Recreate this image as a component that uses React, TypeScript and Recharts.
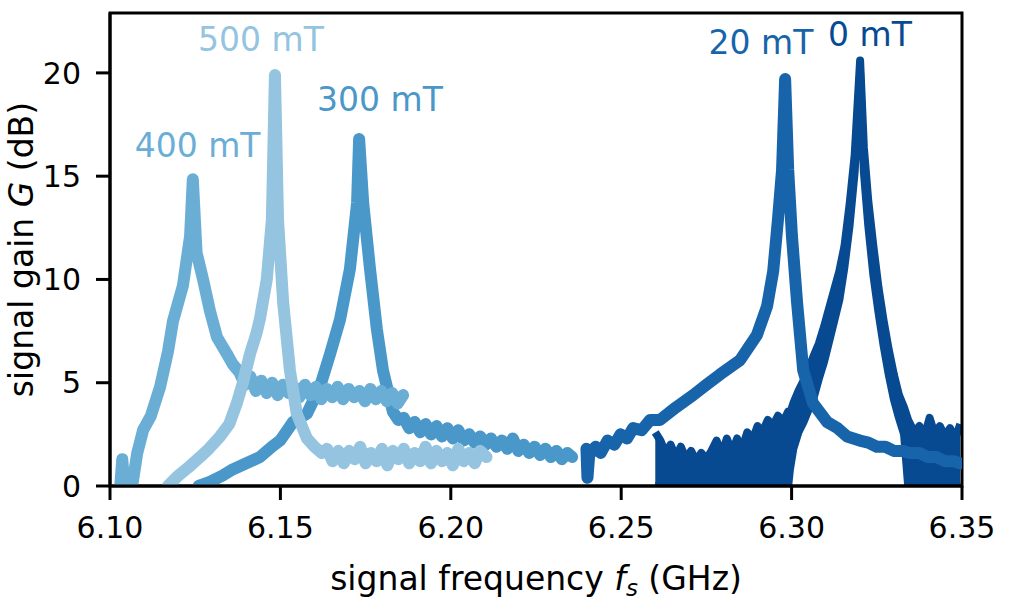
import { Area, ComposedChart, Label, Line, ReferenceArea, ReferenceDot, XAxis, YAxis } from 'recharts'

const FONT = '"DejaVu Sans", "Liberation Sans", sans-serif'

const X_TICKS = [6.1, 6.15, 6.2, 6.25, 6.3, 6.35]
const Y_TICKS = [0, 5, 10, 15, 20]

// 500 mT
const f500 = [6.117, 6.1197, 6.123, 6.1264, 6.129, 6.1323, 6.135, 6.1372, 6.139, 6.1411, 6.143, 6.144, 6.146, 6.1475, 6.1484, 6.1493, 6.1508, 6.1528, 6.1548, 6.1578, 6.16, 6.1621,
  6.1637, 6.1653, 6.167, 6.1686, 6.1702, 6.1718, 6.1734, 6.175, 6.1766, 6.1782, 6.1798, 6.1814, 6.183, 6.1846, 6.1862, 6.1878, 6.1894, 6.191, 6.1926, 6.1942, 6.1958, 6.1974, 6.199, 6.2006, 6.2022, 6.2038, 6.2054, 6.207, 6.2086, 6.2105]
const g500 = [0, 0.45, 0.9, 1.4, 1.8, 2.4, 3.0, 4.0, 5.0, 6.4, 7.4, 8.1, 10, 12.9, 19.9, 12.9, 8.9, 5.6, 3.5, 2.3, 1.9, 1.6,
  1.8, 1.2, 1.7, 1.1, 1.7, 1.3, 1.9, 1.1, 1.6, 1.2, 1.8, 1.0, 1.7, 1.3, 1.8, 1.1, 1.6, 1.2, 1.9, 1.1, 1.7, 1.2, 1.6, 1.0, 1.8, 1.2, 1.6, 1.1, 1.7, 1.4]

// 400 mT
const f400 = [6.103, 6.1036, 6.1042, 6.1065, 6.108, 6.1097, 6.112, 6.1147, 6.117, 6.1185, 6.1214, 6.1235, 6.1243, 6.1254, 6.1273, 6.1293, 6.1314, 6.1343, 6.136,
  6.138, 6.1396, 6.1412, 6.1428, 6.1444, 6.146, 6.1476, 6.1492, 6.1508, 6.1524, 6.154, 6.1556, 6.1572, 6.1588, 6.1604, 6.162, 6.1636, 6.1652, 6.1668, 6.1684, 6.17, 6.1716, 6.1732, 6.1748, 6.1764, 6.178, 6.1796, 6.1812, 6.1828, 6.1844, 6.186]
const g400 = [0, 1.3, 0, 0, 1.6, 2.7, 3.4, 4.8, 6.5, 8.0, 9.7, 12.1, 14.85, 11.3, 10.0, 8.5, 7.2, 6.4, 5.9,
  5.5, 4.9, 5.3, 4.6, 5.1, 4.5, 5.0, 4.4, 4.9, 4.5, 4.8, 4.3, 4.9, 4.4, 4.8, 4.2, 4.7, 4.3, 4.8, 4.2, 4.7, 4.3, 4.6, 4.1, 4.7, 4.2, 4.6, 4.1, 4.5, 4.0, 4.4]

// 300 mT
const f300 = [6.126, 6.1293, 6.133, 6.136, 6.14, 6.144, 6.1475, 6.1499, 6.1537, 6.1578, 6.1616, 6.1646, 6.1675, 6.1704, 6.1725, 6.1731, 6.1743, 6.1763, 6.1783, 6.1801,
  6.183, 6.1846, 6.1862, 6.1878, 6.1894, 6.191, 6.1926, 6.1942, 6.1958, 6.1974, 6.199, 6.2006, 6.2022, 6.2038, 6.2054, 6.207, 6.2086, 6.2102, 6.2118, 6.2134, 6.215, 6.2166, 6.2182, 6.2198, 6.2214, 6.223, 6.2246, 6.2262, 6.2278, 6.2294, 6.231, 6.2326, 6.2342, 6.2356]
const g300 = [0, 0.2, 0.5, 0.8, 1.1, 1.4, 1.9, 2.2, 3.1, 3.5, 4.8, 6.4, 8.06, 10.5, 13.7, 16.8, 13.7, 10.5, 7.6, 5.6,
  3.6, 3.2, 3.3, 2.8, 3.1, 2.6, 3.0, 2.5, 2.9, 2.4, 2.8, 2.3, 2.7, 2.2, 2.5, 2.1, 2.4, 2.0, 2.3, 1.9, 2.2, 1.8, 2.3, 1.7, 2.0, 1.6, 1.9, 1.5, 1.8, 1.4, 1.7, 1.3, 1.6, 1.4]

// 20 mT
const f20 = [6.2398, 6.2401, 6.2406, 6.2425, 6.244, 6.246, 6.248, 6.2498, 6.2517, 6.2535, 6.256, 6.2585, 6.2614, 6.266, 6.2711, 6.275, 6.279, 6.2849, 6.2898, 6.2928, 6.2946, 6.296, 6.2972, 6.2981, 6.299, 6.3001, 6.3016, 6.3034, 6.3063, 6.3104, 6.3135, 6.3163, 6.32, 6.3225, 6.325, 6.3275, 6.33, 6.3325, 6.3347, 6.3375, 6.34, 6.3425, 6.345, 6.3475, 6.3494]
const g20 = [1.8, 0.4, 1.5, 1.9, 1.6, 2.2, 2.0, 2.5, 2.3, 2.8, 2.7, 3.2, 3.2, 3.8, 4.4, 4.9, 5.4, 6.1, 7.3, 8.7, 10.4, 12.9, 15.3, 19.7, 15.3, 12.1, 8.9, 5.6, 4.0, 3.1, 2.8, 2.4, 2.2, 2.1, 1.9, 1.9, 1.7, 1.7, 1.6, 1.6, 1.4, 1.4, 1.2, 1.2, 1.1]

// 0 mT, drawn as a noise band (low / high edge)
const f0 = [6.26, 6.2615, 6.263, 6.2645, 6.266, 6.2675, 6.269, 6.2705, 6.272, 6.2735, 6.275, 6.2765, 6.278, 6.2795, 6.281, 6.2825, 6.284, 6.2855, 6.287, 6.2885, 6.29, 6.2915, 6.293, 6.2945, 6.296, 6.2975, 6.299, 6.2995, 6.3005, 6.302, 6.3035, 6.305, 6.3065, 6.308, 6.3095, 6.311, 6.3125, 6.314, 6.3155, 6.317, 6.3185, 6.3201, 6.3212, 6.3225, 6.324, 6.3255, 6.327, 6.3285, 6.33, 6.3315, 6.333, 6.3342, 6.336, 6.3375, 6.339, 6.3405, 6.342, 6.3435, 6.345, 6.3465, 6.348, 6.3495]
const lo0 = [0, 0, 0, 0, 0, 0, 0, 0, 0, 0, 0, 0, 0, 0, 0, 0, 0, 0, 0, 0, 0, 0, 0, 0, 0, 0, 0, 0.8, 1.8, 2.6, 3.1, 3.7, 4.3, 5.2, 6.0, 7.0, 8.0, 9.0, 10.6, 12.6, 15.2, 20.0, 15.2, 12.6, 10.2, 8.4, 6.8, 5.4, 4.2, 3.3, 2.5, 0, 0, 0, 0, 0, 0, 0, 0, 0, 0, 0]
const hi0 = [2.6, 2.2, 1.6, 2.0, 1.4, 1.9, 1.3, 1.7, 1.2, 1.6, 1.3, 1.7, 2.2, 1.5, 2.3, 1.6, 2.3, 1.8, 2.6, 2.2, 2.9, 2.6, 3.2, 2.9, 3.4, 3.1, 3.6, 3.5, 4.0, 4.6, 5.1, 5.7, 6.3, 6.9, 7.7, 8.6, 9.5, 10.4, 11.6, 13.6, 16.0, 20.6, 16.4, 13.8, 11.6, 9.6, 8.0, 6.6, 5.4, 4.4, 3.8, 3.2, 2.6, 2.9, 2.4, 3.3, 2.5, 2.9, 2.4, 2.8, 2.3, 3.0]

const COLOR_500 = '#94c4df'
const COLOR_400 = '#6aaed6'
const COLOR_300 = '#4a98c9'
const COLOR_20 = '#1764ab'
const COLOR_0 = '#084a91'

const LABELS = [
  { text: '500 mT', f: 6.1443, g: 21.07, color: COLOR_500 },
  { text: '400 mT', f: 6.1257, g: 15.92, color: COLOR_400 },
  { text: '300 mT', f: 6.1792, g: 18.16, color: COLOR_300 },
  { text: '20 mT', f: 6.291, g: 20.92, color: COLOR_20 },
  { text: '0 mT', f: 6.323, g: 21.31, color: COLOR_0 },
]

const toPoints = (f: number[], g: number[]) => f.map((x, i) => ({ f: x, g: g[i] }))

const d500 = toPoints(f500, g500)
const d400 = toPoints(f400, g400)
const d300 = toPoints(f300, g300)
const d20 = toPoints(f20, g20)
const d0 = f0.map((x, i) => ({ f: x, band: [lo0[i], hi0[i]] }))

const axisStroke = { stroke: '#000', strokeWidth: 3 }
const tickStyle = { fill: '#000', fontSize: 30, fontFamily: FONT }

function XTitle(props: any) {
  const vb = props.viewBox ?? { x: 110, width: 852 }
  return (
    <text x={vb.x + vb.width / 2} y={590} textAnchor="middle" fontSize={33} fontFamily={FONT} fill="#000">
      signal frequency <tspan fontStyle="italic">f</tspan>
      <tspan fontStyle="italic" fontSize={23} dy={6}>s</tspan>
      <tspan dy={-6}> (GHz)</tspan>
    </text>
  )
}

function YTitle(props: any) {
  const vb = props.viewBox ?? { y: 13, height: 473 }
  const cy = vb.y + vb.height / 2
  return (
    <text x={33} y={cy} transform={`rotate(-90, 33, ${cy})`} textAnchor="middle" fontSize={33} fontFamily={FONT} fill="#000">
      signal gain <tspan fontStyle="italic">G</tspan> (dB)
    </text>
  )
}

export default function App() {
  const lineProps = {
    dataKey: 'g',
    type: 'linear' as const,
    dot: false,
    activeDot: false,
    strokeWidth: 12,
    strokeLinejoin: 'round' as const,
    strokeLinecap: 'round' as const,
    isAnimationActive: false,
  }

  return (
    <div style={{ width: 1012, height: 607, background: '#fff' }}>
      <style>{'body{margin:0}'}</style>
      <ComposedChart width={1012} height={607} margin={{ top: 13, right: 50, bottom: 0, left: 0 }}>
        <XAxis
          type="number"
          dataKey="f"
          domain={[6.1, 6.35]}
          ticks={X_TICKS}
          tickFormatter={(v: number) => v.toFixed(2)}
          allowDataOverflow
          height={121}
          tickSize={14}
          tickMargin={17}
          axisLine={axisStroke}
          tickLine={axisStroke}
          tick={tickStyle}
        >
          <Label content={XTitle} />
        </XAxis>
        <YAxis
          type="number"
          domain={[0, 22.9]}
          ticks={Y_TICKS}
          allowDataOverflow
          width={110}
          tickSize={14}
          tickMargin={15}
          axisLine={axisStroke}
          tickLine={axisStroke}
          tick={tickStyle}
        >
          <Label content={YTitle} />
        </YAxis>

        <Area
          data={d0}
          dataKey="band"
          type="linear"
          fill={COLOR_0}
          fillOpacity={1}
          stroke={COLOR_0}
          strokeWidth={8}
          strokeLinejoin="round"
          dot={false}
          activeDot={false}
          isAnimationActive={false}
        />
        <Line data={d20} stroke={COLOR_20} {...lineProps} />
        <Line data={d300} stroke={COLOR_300} {...lineProps} />
        <Line data={d400} stroke={COLOR_400} {...lineProps} />
        <Line data={d500} stroke={COLOR_500} {...lineProps} />

        <ReferenceArea x1={6.1} x2={6.35} y1={0} y2={22.9} fill="none" stroke="#000" strokeWidth={3} />

        {LABELS.map((l) => (
          <ReferenceDot
            key={l.text}
            x={l.f}
            y={l.g}
            r={0}
            shape={(p: any) => (
              <text x={p.cx} y={p.cy} textAnchor="middle" fontSize={33} fontFamily={FONT} fill={l.color}>
                {l.text}
              </text>
            )}
          />
        ))}
      </ComposedChart>
    </div>
  )
}
